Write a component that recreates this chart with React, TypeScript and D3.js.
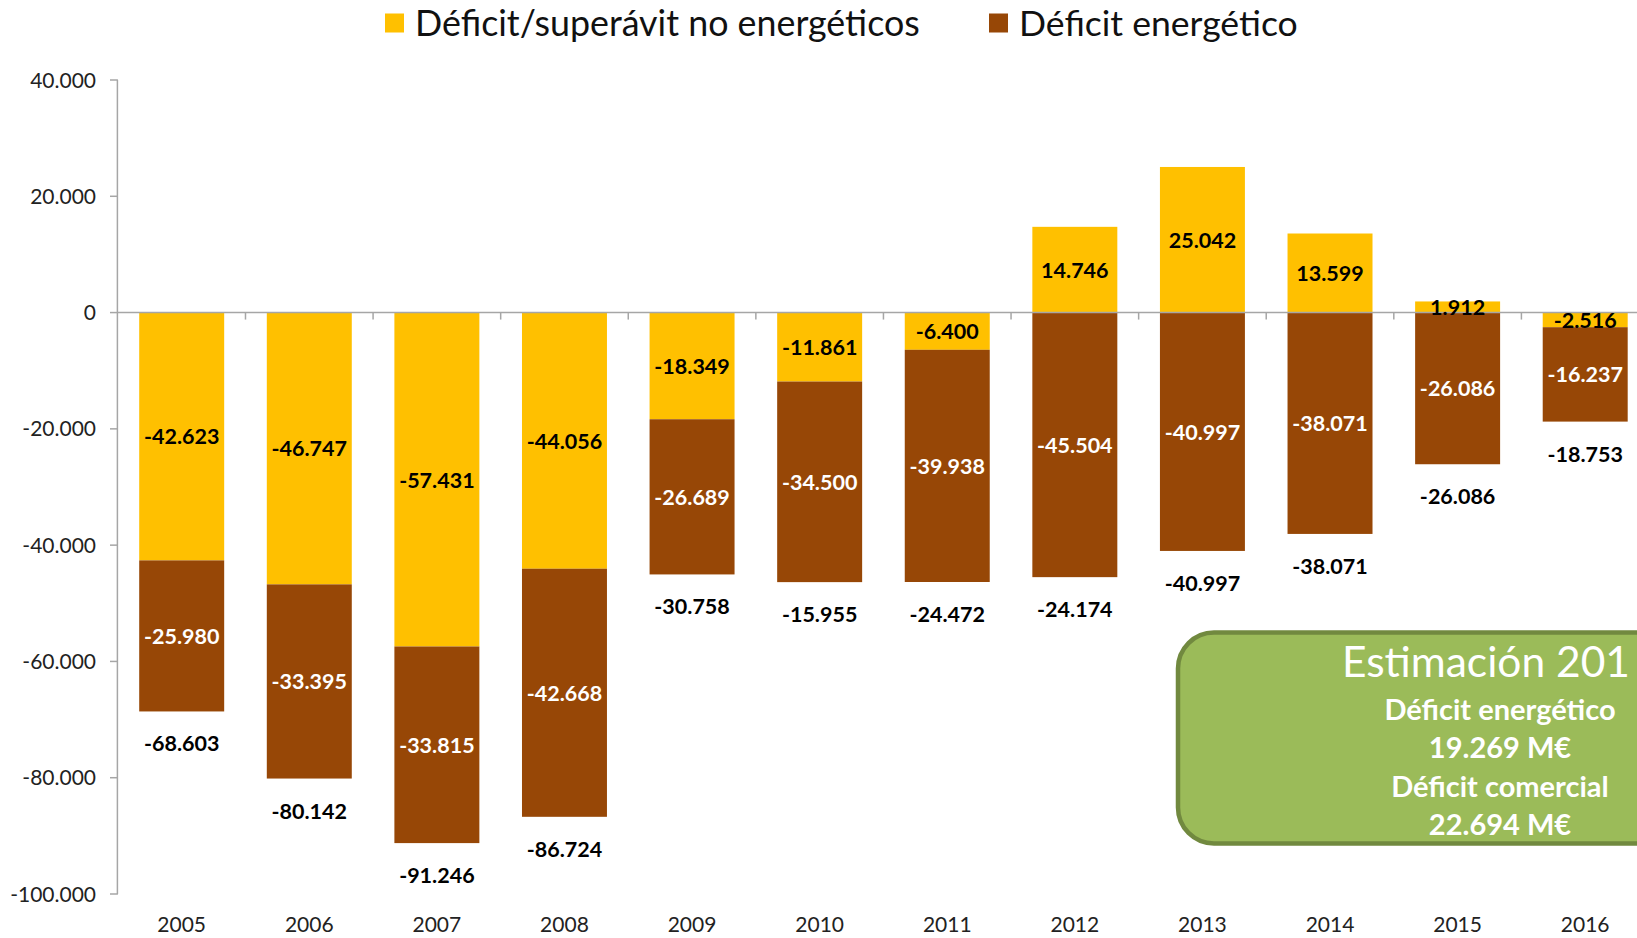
import React from "react";
import * as d3 from "d3";

const years = ["2005", "2006", "2007", "2008", "2009", "2010", "2011", "2012", "2013", "2014", "2015", "2016"];
const noEnergy = [-42623, -46747, -57431, -44056, -18349, -11861, -6400, 14746, 25042, 13599, 1912, -2516];
const energy = [-25980, -33395, -33815, -42668, -26689, -34500, -39938, -45504, -40997, -38071, -26086, -16237];
const totalLabels = ["-68.603", "-80.142", "-91.246", "-86.724", "-30.758", "-15.955", "-24.472", "-24.174", "-40.997", "-38.071", "-26.086", "-18.753"];
const yTicks = [40000, 20000, 0, -20000, -40000, -60000, -80000, -100000];
const legendLabels = ["Déficit/superávit no energéticos", "Déficit energético"];
const boxTitle = "Estimación 201";
const boxLines = ["Déficit energético", "19.269 M€", "Déficit comercial", "22.694 M€"];

const W = 1637;
const H = 938;
const FONT = "Lato, 'Open Sans', sans-serif";
const YELLOW = "#FFC000";
const BROWN = "#974706";
const AXIS = "#A6A6A6";

const locale = d3.formatLocale({ decimal: ",", thousands: ".", grouping: [3], currency: ["", "€"], minus: "-" } as any);
const fmt = locale.format(",d");

export default function App() {
  const x = d3.scaleBand<string>().domain(years).range([117.9, 1649]).paddingInner(0.334).paddingOuter(0.167);
  const y = d3.scaleLinear().domain([-100000, 40000]).range([894, 80]);
  const rows = years.map((yr, i) => ({ year: yr, noEnergy: noEnergy[i], energy: energy[i] }));
  const series = d3.stack<any>().keys(["noEnergy", "energy"]).offset(d3.stackOffsetDiverging)(rows);
  const colors = [YELLOW, BROWN];
  const labelColors = ["#000", "#fff"];
  const x0 = 117.9;
  const step = x.step();

  return (
    <svg width={W} height={H} style={{ position: "absolute", left: 0, top: 0, background: "#fff" }} fontFamily={FONT}>
      {/* legend */}
      <rect x={385} y={13.5} width={19} height={19} fill={YELLOW} />
      <text x={415} y={22.5} fontSize={35.8} dominantBaseline="central" fill="#111">{legendLabels[0]}</text>
      <rect x={989} y={13.5} width={19} height={19} fill={BROWN} />
      <text x={1019} y={22.5} fontSize={35.6} dominantBaseline="central" fill="#111">{legendLabels[1]}</text>

      {/* bars */}
      {series.map((s, si) =>
        s.map((d, i) => {
          const top = y(Math.max(d[0], d[1]));
          const bot = y(Math.min(d[0], d[1]));
          return (
            <rect key={`${si}-${i}`} x={x(years[i])} y={top} width={x.bandwidth()} height={bot - top} fill={colors[si]} />
          );
        })
      )}

      {/* y axis */}
      <line x1={x0 - 0.5} x2={x0 - 0.5} y1={y(40000)} y2={y(-100000)} stroke={AXIS} strokeWidth={1.5} />
      {yTicks.map((t) => (
        <g key={t}>
          <line x1={110} x2={x0} y1={y(t)} y2={y(t)} stroke={AXIS} strokeWidth={1.5} />
          <text x={96} y={y(t) - 1} textAnchor="end" dominantBaseline="central" fontSize={21} fill="#222">{fmt(t)}</text>
        </g>
      ))}

      {/* zero line and category ticks */}
      <line x1={x0} x2={W} y1={y(0)} y2={y(0)} stroke={AXIS} strokeWidth={1.5} />
      {years.map((yr, i) => (
        <line key={yr} x1={x0 + step * (i + 1)} x2={x0 + step * (i + 1)} y1={y(0)} y2={y(0) + 7} stroke={AXIS} strokeWidth={1.5} />
      ))}

      {/* segment labels */}
      {series.map((s, si) =>
        s.map((d, i) => (
          <text key={`l${si}-${i}`} x={(x(years[i]) as number) + x.bandwidth() / 2} y={y((d[0] + d[1]) / 2)} textAnchor="middle" dominantBaseline="central" fontSize={21.5} fontWeight="bold" fill={labelColors[si]}>
            {fmt(si === 0 ? noEnergy[i] : energy[i])}
          </text>
        ))
      )}

      {/* total labels below bars */}
      {years.map((yr, i) => {
        const bottom = Math.min(0, ...series.map((s) => Math.min(s[i][0], s[i][1])));
        return (
          <text key={`t${yr}`} x={(x(yr) as number) + x.bandwidth() / 2} y={y(bottom) + 32} textAnchor="middle" dominantBaseline="central" fontSize={21.5} fontWeight="bold" fill="#000">
            {totalLabels[i]}
          </text>
        );
      })}

      {/* x labels */}
      {years.map((yr) => (
        <text key={`x${yr}`} x={(x(yr) as number) + x.bandwidth() / 2} y={923} textAnchor="middle" dominantBaseline="central" fontSize={21} fill="#222">{yr}</text>
      ))}

      {/* estimation box */}
      <rect x={1178} y={632.5} width={520} height={211} rx={36} ry={36} fill="#9BBB59" stroke="#71893F" strokeWidth={4.5} />
      <text x={1342} y={660} fontSize={42.5} dominantBaseline="central" fill="#fff">{boxTitle}</text>
      {boxLines.map((l, i) => (
        <text key={l} x={1500} y={708 + i * 38.5} textAnchor="middle" dominantBaseline="central" fontSize={29} fontWeight="bold" fill="#fff">{l}</text>
      ))}
    </svg>
  );
}
